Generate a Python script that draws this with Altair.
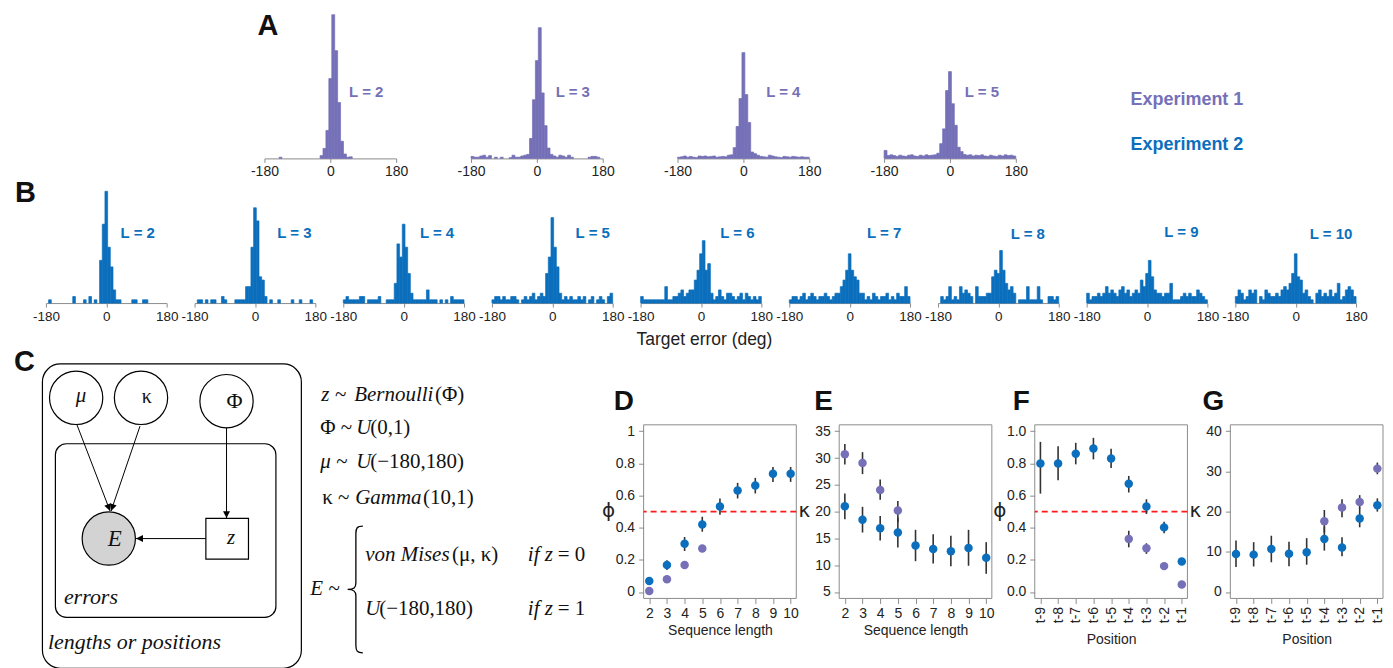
import math
import altair as alt
import pandas as pd

PURPLE = "#7570b7"
BLUE = "#0b6fbd"
DARK = "#222222"
GRAY = "#8c8c8c"
SANS = "Liberation Sans"
SERIF = "Liberation Serif"

# ---------------- data ----------------
BIN_WIDTH = 8
BIN_START = list(range(-180, 180, BIN_WIDTH))   # 45 bins

A_LENGTHS = [2, 3, 4, 5]
# Experiment 1 histograms (% of trials per 8-deg bin)
A_L2 = [0, 0, 0, 0, 0, 0.3, 0, 0, 0, 0,
        0, 0, 0, 0, 0, 0, 0, 0, 0, 0.7,
        2.5, 7, 20, 36, 27, 14, 4.3, 1.1, 0.3, 0.4,
        0, 0, 0, 0, 0, 0, 0, 0, 0, 0,
        0, 0, 0, 0, 0]
A_L3 = [0.5, 0.3, 0.3, 0.6, 0.8, 0.3, 0.7, 0, 0.3, 0,
        0.3, 0, 0, 0.2, 0.8, 0.3, 0.3, 0.6, 0.8, 1.0,
        5, 14.7, 24.5, 32.75, 16.4, 8.2, 2.6, 1.0, 0.6, 0.3,
        0.8, 0.6, 0.3, 0.8, 0.3, 0, 0, 0, 0, 0,
        0.3, 0.5, 0.5, 0.3, 0]
A_L4 = [0.3, 0.4, 0.6, 0.3, 0.5, 0.3, 0.2, 0.6, 0.5, 0.6,
        0.4, 0.5, 0.6, 0.3, 0.4, 0.5, 0.4, 0.8, 0.9, 2.7,
        8, 15, 26.5, 16, 9, 1.6, 1.2, 0.8, 0.5, 0.4,
        0.3, 0.8, 0.6, 0.4, 0.3, 0.2, 0.5, 0.4, 0.3, 0.5,
        0.4, 0.3, 0.4, 0.3, 0.3]
A_L5 = [2.0, 0.7, 0.9, 0.7, 0.5, 0.8, 0.6, 0.5, 0.8, 0.9,
        0.6, 0.5, 0.8, 0.6, 0.9, 0.7, 0.8, 0.9, 1.3, 3.7,
        7.4, 17, 21.75, 13.7, 8.3, 2.8, 1.7, 1.0, 0.8, 0.9,
        0.6, 0.8, 0.7, 0.9, 0.6, 0.5, 0.8, 0.6, 0.5, 0.8,
        0.6, 0.9, 0.7, 0.8, 0.6]
A_VALUES = [A_L2, A_L3, A_L4, A_L5]

B_LENGTHS = [2, 3, 4, 5, 6, 7, 8, 9, 10]
# Experiment 2 histograms (counts per 8-deg bin)
B_L2 = [0, 1, 0, 0, 0, 0, 0, 0, 0, 0, 2, 0, 0, 0, 1, 0, 2, 0, 1, 0,
        13, 24, 34, 17, 11, 4, 1, 1, 0, 0, 0, 0, 1, 1, 0, 0, 1, 1, 0, 0, 0, 0, 0, 0, 0]
B_L3 = [0, 1, 1, 0, 1, 0, 1, 1, 0, 0, 2, 1, 0, 0, 0, 1, 1, 1, 1, 5,
        5, 17, 29, 25, 8, 7, 2, 0, 1, 0, 0, 1, 0, 0, 0, 0, 1, 0, 0, 1, 0, 0, 0, 1, 0]
B_L4 = [1, 2, 1, 1, 1, 1, 2, 2, 0, 1, 1, 1, 1, 2, 0, 0, 1, 1, 1, 6,
        18, 14, 24, 17, 9, 3, 1, 1, 1, 1, 1, 4, 1, 1, 1, 0, 1, 0, 1, 0, 2, 1, 1, 1, 1]
B_L5 = [1, 2, 2, 1, 2, 1, 1, 2, 2, 1, 0, 1, 2, 1, 2, 3, 1, 2, 3, 2,
        9, 14, 26, 17, 11, 3, 1, 2, 1, 2, 1, 1, 2, 1, 2, 0, 1, 2, 0, 1, 2, 1, 0, 2, 3]
B_L6 = [2, 1, 1, 1, 1, 1, 1, 1, 1, 5, 1, 1, 2, 2, 3, 4, 2, 3, 4, 4,
        7, 10, 15, 19, 10, 12, 3, 1, 2, 4, 2, 1, 3, 3, 2, 1, 2, 3, 1, 3, 2, 1, 2, 1, 2]
B_L7 = [1, 2, 2, 1, 2, 3, 1, 2, 3, 2, 1, 2, 2, 3, 2, 1, 2, 3, 3, 5,
        7, 10, 15, 10, 8, 7, 3, 3, 1, 2, 1, 3, 2, 1, 2, 2, 3, 1, 2, 1, 3, 2, 2, 5, 2]
B_L8 = [0, 2, 1, 2, 5, 1, 2, 1, 5, 3, 4, 3, 2, 0, 5, 2, 2, 2, 3, 3,
        8, 10, 9, 16, 10, 6, 4, 5, 3, 0, 1, 1, 1, 5, 1, 1, 1, 5, 1, 0, 0, 2, 2, 1, 2]
B_L9 = [3, 1, 2, 2, 3, 2, 3, 5, 3, 4, 3, 2, 4, 5, 3, 4, 2, 3, 4, 3,
        7, 5, 9, 13, 8, 4, 3, 3, 2, 3, 3, 6, 1, 1, 1, 2, 3, 2, 3, 2, 2, 4, 3, 2, 1]
B_L10 = [2, 4, 3, 1, 2, 4, 3, 4, 0, 2, 1, 4, 3, 2, 2, 3, 2, 4, 5, 4,
         6, 9, 15, 8, 7, 3, 4, 2, 1, 0, 3, 4, 2, 3, 2, 4, 2, 3, 6, 1, 2, 4, 5, 4, 2]
B_VALUES = [B_L2, B_L3, B_L4, B_L5, B_L6, B_L7, B_L8, B_L9, B_L10]

SEQ_LEN = [2, 3, 4, 5, 6, 7, 8, 9, 10]
EXP1_LEN = [2, 3, 4, 5]
# D: phi by sequence length
D_E2 = [0.068, 0.168, 0.30, 0.42, 0.532, 0.631, 0.663, 0.735, 0.735]
D_E2_LO = [0.058, 0.137, 0.255, 0.375, 0.48, 0.582, 0.613, 0.685, 0.685]
D_E2_HI = [0.078, 0.197, 0.342, 0.468, 0.582, 0.679, 0.71, 0.778, 0.778]
D_E1 = [0.006, 0.079, 0.168, 0.271]
D_E1_LO = [0.0, 0.07, 0.158, 0.261]
D_E1_HI = [0.012, 0.088, 0.178, 0.281]
# E: kappa by sequence length
E_E2 = [21.0, 18.5, 16.9, 16.1, 13.66, 13.04, 12.6, 13.2, 11.4]
E_E2_LO = [18.6, 16.1, 14.6, 13.3, 10.75, 10.3, 9.8, 9.9, 8.4]
E_E2_HI = [23.4, 20.9, 19.2, 18.9, 16.6, 15.8, 15.5, 16.6, 14.3]
E_E1 = [30.7, 29.06, 24.05, 20.2]
E_E1_LO = [28.8, 27.0, 22.2, 18.0]
E_E1_HI = [32.6, 31.1, 26.0, 22.0]

POS_LABELS = ["t-9", "t-8", "t-7", "t-6", "t-5", "t-4", "t-3", "t-2", "t-1"]
EXP1_POS = ["t-4", "t-3", "t-2", "t-1"]
# F: phi by position
F_E2 = [0.80, 0.80, 0.86, 0.893, 0.831, 0.674, 0.532, 0.402, 0.19]
F_E2_LO = [0.612, 0.695, 0.794, 0.825, 0.771, 0.619, 0.485, 0.365, 0.17]
F_E2_HI = [0.934, 0.907, 0.928, 0.959, 0.891, 0.722, 0.577, 0.437, 0.21]
F_E1 = [0.33, 0.272, 0.161, 0.047]
F_E1_LO = [0.278, 0.237, 0.15, 0.04]
F_E1_HI = [0.381, 0.303, 0.172, 0.055]
# G: kappa by position
G_E2 = [9.48, 9.3, 10.7, 9.5, 9.9, 13.2, 11.1, 18.3, 21.6]
G_E2_LO = [6.2, 6.35, 7.4, 6.4, 6.8, 10.3, 8.9, 16.1, 20.0]
G_E2_HI = [12.8, 12.4, 14.0, 12.5, 13.4, 16.3, 13.6, 21.0, 23.3]
G_E1 = [17.6, 21.0, 22.4, 30.7]
G_E1_LO = [14.8, 18.6, 20.8, 29.3]
G_E1_HI = [20.4, 23.1, 24.1, 32.2]

# ---------------- helpers ----------------
def txt(s, x, y, size, color=DARK, weight="normal", style="normal", font=SANS, align="left"):
    return alt.Chart(pd.DataFrame({"t": [s]})).mark_text(
        font=font, fontSize=size, fontWeight=weight, fontStyle=style,
        color=color, align=align, baseline="middle"
    ).encode(text="t:N", x=alt.value(x), y=alt.value(y))


def spacer(w, h):
    return alt.Chart(pd.DataFrame({"a": [0]})).mark_point(opacity=0).encode(
        x=alt.value(0), y=alt.value(0)).properties(width=w, height=h)


def hist_panel(values, color, w, h, ymax, fs, label, lx, ly, extras=()):
    df = pd.DataFrame({"lo": BIN_START,
                       "hi": [b + BIN_WIDTH for b in BIN_START],
                       "v": values,
                       "base": [0] * len(BIN_START)})
    df = df[df["v"] > 0]
    bars = alt.Chart(df).mark_rect(color=color, stroke=color, strokeWidth=0.7).encode(
        x=alt.X("lo:Q", scale=alt.Scale(domain=[-180, 180], nice=False, zero=False),
                axis=alt.Axis(values=[-180, 0, 180], labelExpr="'' + datum.value", title=None,
                              grid=False, domainColor=GRAY, domainWidth=1, tickColor=GRAY,
                              tickSize=4, labelFontSize=fs, labelPadding=2, labelColor=DARK,
                              labelFlush=False, labelOverlap=False, labelFont=SANS)),
        x2="hi:Q",
        y=alt.Y("v:Q", scale=alt.Scale(domain=[0, ymax], nice=False), axis=None),
        y2="base:Q",
    )
    lab = txt(label, lx, ly, 15, color=color, weight="bold", align="center")
    return alt.layer(bars, lab, *extras).properties(width=w, height=h)


# ---------------- row A ----------------
A_LABEL_X = [102, 102, 106, 98]
a_panels = []
for i, (L, vals) in enumerate(zip(A_LENGTHS, A_VALUES)):
    extras = []
    if i == 0:
        extras.append(txt("A", -7, 14.5, 29, weight="bold", color="#111111"))
    if i == 3:
        extras.append(txt("Experiment 1", 247, 88, 18, color=PURPLE, weight="bold"))
        extras.append(txt("Experiment 2", 247, 134, 18, color=BLUE, weight="bold"))
    a_panels.append(hist_panel(vals, PURPLE, 132, 147, 36.75, 14, f"L = {L}",
                               A_LABEL_X[i], 80, extras))
rowA = alt.hconcat(spacer(179, 147), *a_panels, spacing=75, bounds="flush")

# ---------------- row B ----------------
B_LABEL_X = [92, 100, 94, 101, 97, 95, 90, 95, 96]
B_LABEL_Y = [42, 42, 42, 42, 42, 42, 43, 41, 43]
b_panels = []
for i, (L, vals) in enumerate(zip(B_LENGTHS, B_VALUES)):
    extras = []
    if i == 0:
        extras.append(txt("B", -31, 2, 29, weight="bold", color="#111111"))
    if i == 4:
        extras.append(txt("Target error (deg)", 64, 149, 17.5, align="center"))
    b_panels.append(hist_panel(vals, BLUE, 121, 112, 34, 13.5, f"L = {L}",
                               B_LABEL_X[i], B_LABEL_Y[i], extras))
rowB = alt.hconcat(spacer(7, 112), *b_panels, spacing=28, bounds="flush")

# ---------------- panel C (diagram) ----------------
XS = alt.Scale(domain=[8, 599], nice=False, zero=False)
YS = alt.Scale(domain=[422, 596], nice=False, zero=False, reverse=True)


def dxe(f):
    return alt.X(f"{f}:Q", scale=XS, axis=None)


def dye(f):
    return alt.Y(f"{f}:Q", scale=YS, axis=None)


outer = alt.Chart(pd.DataFrame({"x": [39.5], "x2": [299], "y": [361], "y2": [666]})).mark_rect(
    fillOpacity=0, stroke="black", strokeWidth=1.2, cornerRadius=18
).encode(x=dxe("x"), x2="x2:Q", y=dye("y"), y2="y2:Q")
inner = alt.Chart(pd.DataFrame({"x": [52.5], "x2": [273.5], "y": [441], "y2": [615]})).mark_rect(
    fillOpacity=0, stroke="black", strokeWidth=1.2, cornerRadius=11
).encode(x=dxe("x"), x2="x2:Q", y=dye("y"), y2="y2:Q")

ARROWS = [(74, 421.7, 107.3, 508.3), (137.3, 423.3, 108.3, 508.3),
          (224, 425, 224, 515.5), (203.3, 536, 133.3, 536)]
arrow_df = pd.DataFrame(ARROWS, columns=["x1", "y1", "x2", "y2"])
heads = []
for x1, y1, x2, y2 in ARROWS:
    d = math.hypot(x2 - x1, y2 - y1)
    ux, uy = (x2 - x1) / d, (y2 - y1) / d
    heads.append((x2 - 3.5 * ux, y2 - 3.5 * uy, math.degrees(math.atan2(-ux, uy)) % 360))
head_df = pd.DataFrame(heads, columns=["x", "y", "a"])

lines = alt.Chart(arrow_df).mark_rule(color="black", strokeWidth=1).encode(
    x=dxe("x1"), y=dye("y1"), x2="x2:Q", y2="y2:Q")
arrowheads = alt.Chart(head_df).mark_point(
    shape="M -1 -1 L 1 -1 L 0 1 Z", size=49, filled=True, color="black", opacity=1
).encode(x=dxe("x"), y=dye("y"), angle=alt.Angle("a:Q", scale=None))

nodes_df = pd.DataFrame({"x": [73.3, 138.3, 224, 106], "y": [395, 395, 398.3, 536],
                         "fill": ["white", "white", "white", "#d3d3d3"]})
nodes = alt.Chart(nodes_df).mark_point(
    shape="circle", size=2852, filled=True, stroke="black", strokeWidth=1.2, opacity=1
).encode(x=dxe("x"), y=dye("y"), fill=alt.Fill("fill:N", scale=None))
zbox = alt.Chart(pd.DataFrame({"x": [203.3], "x2": [246], "y": [515.7], "y2": [556.7]})).mark_rect(
    fill="white", stroke="black", strokeWidth=1.2
).encode(x=dxe("x"), x2="x2:Q", y=dye("y"), y2="y2:Q")

BRACE = ("M 0.12 -1 C 0.03 -1 0.01 -0.97 0.01 -0.88 L 0.01 -0.1 C 0.01 -0.03 -0.02 0 -0.12 0 "
         "C -0.02 0 0.01 0.03 0.01 0.1 L 0.01 0.88 C 0.01 0.97 0.03 1 0.12 1")
brace = alt.Chart(pd.DataFrame({"x": [353], "y": [587]})).mark_point(
    shape=BRACE, size=16129, filled=False, stroke="black", strokeWidth=1.3, opacity=1
).encode(x=dxe("x"), y=dye("y"))

DIAG_TEXT = [
    # text, x, y, style, size
    ("μ", 73, 393, "italic", 21), ("κ", 139, 394, "normal", 20), ("Φ", 224, 398, "normal", 22),
    ("E", 105, 536, "italic", 23), ("z", 224.5, 535, "italic", 21),
    ("errors", 61, 595, "italic", 22), ("lengths or positions", 45, 640, "italic", 22),
    ("z ~", 319, 392, "italic", 21), ("Bernoulli", 352, 392, "italic", 21), ("(Φ)", 433, 392, "normal", 21),
    ("Φ ~", 318, 425, "normal", 21), ("U", 354, 425, "italic", 21), ("(0,1)", 368, 425, "normal", 21),
    ("μ ~", 318, 459, "italic", 21), ("U", 354, 459, "italic", 21), ("(−180,180)", 368, 459, "normal", 21),
    ("κ ~", 320, 495, "normal", 21), ("Gamma", 353, 495, "italic", 21), ("(10,1)", 421, 495, "normal", 21),
    ("E ~", 308, 587, "italic", 21),
    ("von Mises", 363, 552, "italic", 21), ("(μ, κ)", 450, 552, "normal", 21),
    ("if z", 526, 552, "italic", 21), ("= 0", 556, 552, "normal", 21),
    ("U", 363, 607, "italic", 21), ("(−180,180)", 377, 607, "normal", 21),
    ("if z", 526, 607, "italic", 21), ("= 1", 556, 607, "normal", 21),
]
dt = pd.DataFrame(DIAG_TEXT, columns=["t", "x", "y", "st", "s"])
text_layers = []
for st in ["italic", "normal"]:
    text_layers.append(alt.Chart(dt[dt["st"] == st]).mark_text(
        font=SERIF, fontStyle=st, align="left", baseline="middle", color="#111111"
    ).encode(x=dxe("x"), y=dye("y"), text="t:N", size=alt.Size("s:Q", scale=None)))
letterC = alt.Chart(pd.DataFrame({"t": ["C"], "x": [11], "y": [359]})).mark_text(
    font=SANS, fontWeight="bold", fontSize=29, align="left", baseline="middle", color="#111111"
).encode(x=dxe("x"), y=dye("y"), text="t:N")

diagram = alt.layer(outer, inner, lines, nodes, zbox, arrowheads, brace, *text_layers, letterC
                    ).properties(width=591, height=174)

# ---------------- panels D-G ----------------
PW, PH = 153, 174
AX = dict(grid=False, domain=False, tickColor=GRAY, tickSize=5, labelFontSize=14, labelColor=DARK,
          labelFlush=False, labelOverlap=False, titleFontSize=14, titleFontWeight="normal",
          titleColor=DARK, labelFont=SANS, titleFont=SANS)


def stat_panel(xb, vb, lob, hib, xp, vp, lop, hip, xdom, xaxis, ydom, yaxis,
               letter, lx, ylab, dashed):
    df = pd.DataFrame({
        "x": list(xb) + list(xp),
        "v": list(vb) + list(vp),
        "lo": list(lob) + list(lop),
        "hi": list(hib) + list(hip),
        "exp": ["Experiment 2"] * len(xb) + ["Experiment 1"] * len(xp),
    })
    X = alt.X("x:Q", scale=alt.Scale(domain=xdom, nice=False, zero=False), axis=xaxis)
    ys = alt.Scale(domain=ydom, nice=False, zero=False)
    frame = alt.Chart(pd.DataFrame({"a": [0]})).mark_rect(
        fillOpacity=0, stroke=GRAY, strokeWidth=1
    ).encode(x=alt.value(0), x2=alt.value(PW), y=alt.value(0), y2=alt.value(PH))
    layers = [frame]
    if dashed:
        layers.append(alt.Chart(pd.DataFrame({"v": [0.5]})).mark_rule(
            color="#ff1a1a", strokeDash=[6, 4], strokeWidth=1.6
        ).encode(y=alt.Y("v:Q", scale=ys, axis=yaxis)))
    err = alt.Chart(df).mark_rule(color="#333333", strokeWidth=1.6).encode(
        x=X, y=alt.Y("lo:Q", scale=ys, axis=yaxis), y2="hi:Q")
    pts = alt.Chart(df).mark_circle(size=72, opacity=1).encode(
        x=X, y=alt.Y("v:Q", scale=ys, axis=yaxis),
        color=alt.Color("exp:N", scale=alt.Scale(domain=["Experiment 1", "Experiment 2"],
                                                  range=[PURPLE, BLUE]), legend=None))
    layers += [err, pts,
               txt(letter, lx, -23, 28, weight="bold", color="#111111"),
               txt(ylab, -35, 86, 20, font="DejaVu Sans", align="center")]
    return alt.layer(*layers).properties(width=PW, height=PH)


seq_axis = alt.Axis(values=SEQ_LEN, format="d", title="Sequence length", labelPadding=3,
                    titlePadding=3, **AX)
pos_idx = list(range(1, len(POS_LABELS) + 1))
pos_expr = "[" + ",".join(f"'{p}'" for p in POS_LABELS) + "][datum.value - 1]"
pos_axis = alt.Axis(values=pos_idx, labelExpr=pos_expr, labelAngle=270, title="Position",
                    labelPadding=3, titlePadding=10, **AX)
exp1_idx = [POS_LABELS.index(p) + 1 for p in EXP1_POS]

phi_vals = [0, 0.2, 0.4, 0.6, 0.8, 1]
yD = alt.Axis(values=phi_vals, labelExpr="'' + datum.value", title=None, labelPadding=4, **AX)
yE = alt.Axis(values=[5, 10, 15, 20, 25, 30, 35], format="d", title=None, labelPadding=4, **AX)
yF = alt.Axis(values=phi_vals, format=".1f", title=None, labelPadding=4, **AX)
yG = alt.Axis(values=[0, 10, 20, 30, 40], format="d", title=None, labelPadding=4, **AX)

panelD = stat_panel(SEQ_LEN, D_E2, D_E2_LO, D_E2_HI, EXP1_LEN, D_E1, D_E1_LO, D_E1_HI,
                    [1.68, 10.32], seq_axis, [-0.04, 1.04], yD, "D", -30, "ϕ", True)
panelE = stat_panel(SEQ_LEN, E_E2, E_E2_LO, E_E2_HI, EXP1_LEN, E_E1, E_E1_LO, E_E1_HI,
                    [1.68, 10.32], seq_axis, [3.8, 36.2], yE, "E", -25, "κ", False)
panelF = stat_panel(pos_idx, F_E2, F_E2_LO, F_E2_HI, exp1_idx, F_E1, F_E1_LO, F_E1_HI,
                    [0.68, 9.32], pos_axis, [-0.04, 1.04], yF, "F", -22, "ϕ", True)
panelG = stat_panel(pos_idx, G_E2, G_E2_LO, G_E2_HI, exp1_idx, G_E1, G_E1_LO, G_E1_HI,
                    [0.68, 9.32], pos_axis, [-1.6, 41.6], yG, "G", -28, "κ", False)

rowC = alt.hconcat(diagram, panelD, panelE, panelF, panelG, spacing=43, bounds="flush")

chart = alt.vconcat(rowA, spacer(1, 180), rowB, spacer(1, 234), rowC,
                    spacing=0, bounds="flush").properties(padding=0)
chart = chart.configure(font=SANS).configure_view(strokeWidth=0)

chart.save("out.html", embed_options={"renderer": "svg", "actions": False})
